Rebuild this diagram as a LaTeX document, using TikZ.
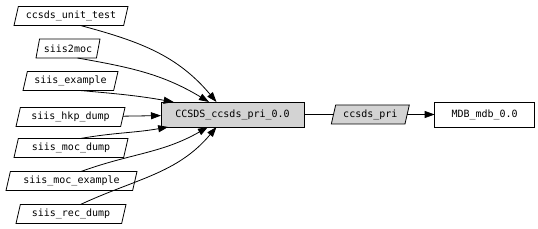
\documentclass[tikz,border=0pt]{standalone}
\usepackage{fontspec}
\newfontfamily\monofont{DejaVu Sans Mono}
\usetikzlibrary{positioning, arrows.meta, shapes.geometric}
\definecolor{colorGris}{RGB}{211,211,211}

\begin{document}
\begin{tikzpicture}[
	x=1pt, y=1pt,
	font=\monofont\fontsize{10}{12}\selectfont,
	paquete/.style={trapezium, trapezium left angle=70, trapezium right angle=110,
	                trapezium stretches body, draw=black, line width=0.8pt,
	                minimum height=19pt, inner sep=1pt, outer sep=0pt},
	modulo/.style={rectangle, draw=black, line width=0.8pt, minimum height=25pt, inner sep=1pt, outer sep=0pt},
	flecha/.style={-{Triangle[length=10pt, width=7pt]}, draw=black, line width=0.8pt},
	linea/.style={draw=black, line width=0.8pt},
	]

\useasboundingbox (0,0) rectangle (538,-229);

% Paquetes que dependen del modulo
\node[paquete, minimum width=114pt] (unittest) at (71,-16) {ccsds\_unit\_test};
\node[paquete, minimum width=64pt] (siistomoc) at (68,-48.5) {siis2moc};
\node[paquete, minimum width=95pt] (example) at (70.5,-81) {siis\_example};
\node[paquete, minimum width=109pt] (hkpdump) at (70.5,-117) {siis\_hkp\_dump};
\node[paquete, minimum width=114pt] (mocdump) at (71,-148) {siis\_moc\_dump};
\node[paquete, minimum width=131pt] (mocexample) at (71.5,-181) {siis\_moc\_example};
\node[paquete, minimum width=110pt] (recdump) at (71,-214) {siis\_rec\_dump};

% Modulo central y su tipo
\node[modulo, fill=colorGris, minimum width=143pt] (ccsds) at (232.5,-114.5) {CCSDS\_ccsds\_pri\_0.0};
\node[paquete, fill=colorGris, minimum width=78pt, right=29.5pt of ccsds] (pritype) {ccsds\_pri};
\node[modulo, minimum width=100pt, right=27.5pt of pritype] (mdb) {MDB\_mdb\_0.0};

\draw[flecha] (unittest.south east) to[out=-15, in=130] (ccsds.142);
\draw[flecha] (siistomoc.south east) to[out=-10, in=149] (ccsds.152);
\draw[flecha] (example.south east) to[out=-5, in=170] (ccsds.168);
\draw[flecha] (hkpdump) -- (ccsds);
\draw[flecha] (mocdump.north east) to[out=10, in=-170] (ccsds.191);
\draw[flecha] (mocexample.north east) to[out=20, in=-150] (ccsds.207);
\draw[flecha] (recdump.north east) to[out=25, in=-130] (ccsds.218);

\draw[linea] (ccsds) -- (pritype);
\draw[flecha] (pritype) -- (mdb);

\end{tikzpicture}
\end{document}
